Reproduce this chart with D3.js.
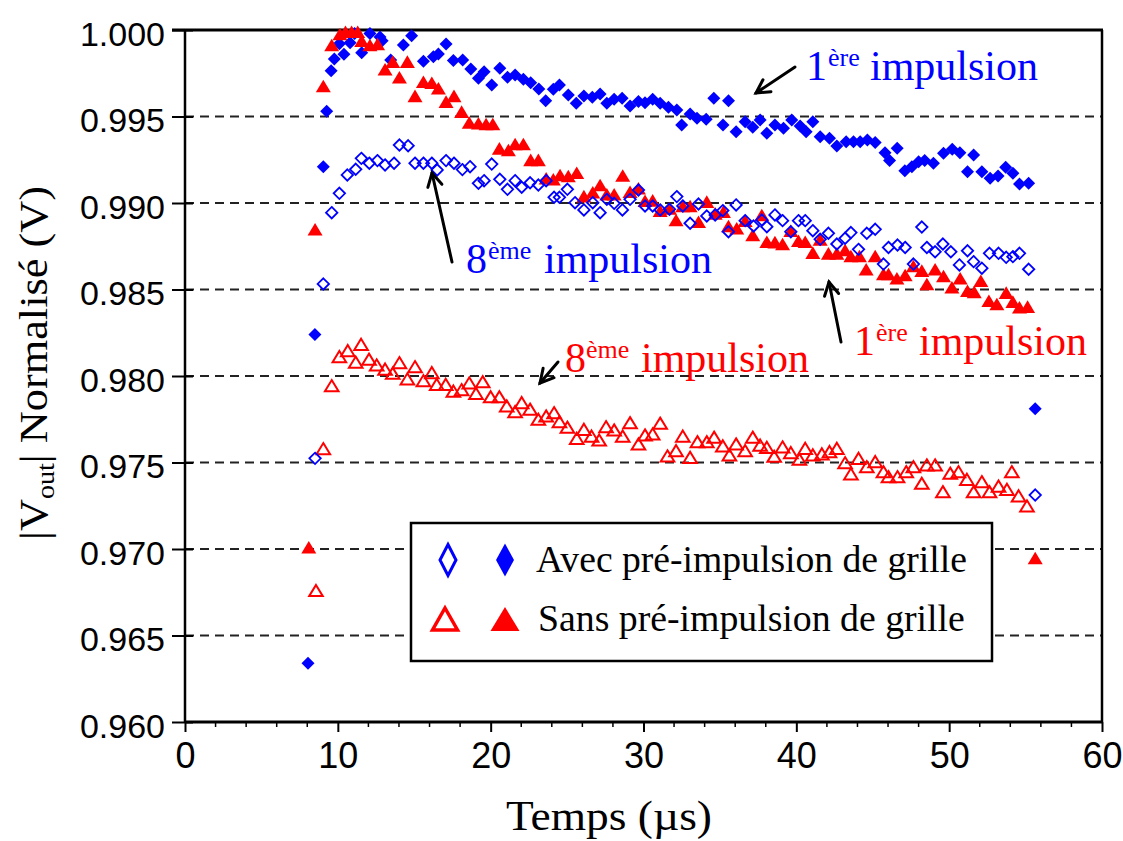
<!DOCTYPE html>
<html><head><meta charset="utf-8">
<script src="https://cdn.jsdelivr.net/npm/d3@7"></script>
<style>html,body{margin:0;padding:0;background:#fff;}svg{display:block;}</style>
</head><body>
<svg id="chart" width="1123" height="841"></svg>
<script>
// ---- Data (Temps µs, |Vout| normalisé) ----
const xTicks = [0,10,20,30,40,50,60];
const yTicks = [0.960,0.965,0.970,0.975,0.980,0.985,0.990,0.995,1.000];

// Avec pré-impulsion de grille, 1ère impulsion (filled diamond)
const avec1 = [[8.05,.9634],[8.5,.9824],[9.05,.9921],[9.27,.9953],[9.56,.99765],[9.77,.99832],[10.1,.9992],[10.4,.9986],[10.8,.99927],[11.1,.9998],[11.56,.99869],[12.1,.9998],[12.76,.9996],[12.9,.99938],[13.46,.99827],[14.29,.99913],[14.83,.99967],[15.6,.9982],[16.25,.99846],[16.58,.99861],[17.08,.99919],[17.56,.99823],[18.17,.99827],[18.7,.99775],[19.2,.99721],[19.57,.99759],[20.07,.99682],[20.6,.99779],[21.1,.99727],[21.6,.9974],[22.14,.99715],[22.62,.99695],[23.15,.99659],[23.6,.99591],[24.1,.99657],[24.5,.99682],[25.08,.99624],[25.6,.99576],[26.1,.99619],[26.65,.99611],[27.16,.9963],[27.6,.99576],[28.08,.99599],[28.6,.99605],[29.12,.99561],[29.67,.99586],[30.1,.9958],[30.6,.99599],[31.09,.99576],[31.63,.99553],[32.18,.99538],[32.5,.99451],[33.05,.99514],[33.5,.9949],[34.1,.99484],[34.6,.99605],[35.2,.99451],[35.56,.99591],[36.06,.99412],[36.65,.9947],[37.15,.99438],[37.63,.9948],[38.07,.99403],[38.6,.99451],[39.16,.99432],[39.7,.9948],[40.25,.99445],[40.64,.99412],[41.08,.9947],[41.56,.99383],[42.17,.99374],[42.65,.9933],[43.26,.99354],[43.74,.99354],[44.18,.99354],[44.65,.99364],[45.16,.99349],[45.8,.99291],[46.1,.99245],[46.6,.99316],[47.1,.99187],[47.56,.9921],[48.0,.99239],[48.4,.99245],[48.97,.9923],[49.63,.99287],[50.2,.9931],[50.7,.99291],[51.2,.99181],[51.6,.99278],[52.14,.99181],[52.68,.99143],[53.2,.99156],[53.7,.99206],[54.17,.99172],[54.6,.9911],[55.2,.99114],[55.63,.97811]];

// Avec pré-impulsion de grille, 8ème impulsion (open diamond)
const avec8 = [[8.51,.97524],[9.05,.98532],[9.6,.98944],[10.1,.99056],[10.62,.99162],[11.17,.99195],[11.54,.99258],[12.06,.9923],[12.59,.99245],[13.09,.9922],[13.68,.9923],[14.03,.99335],[14.6,.99331],[15.05,.9923],[15.6,.9923],[16.15,.9923],[16.5,.99191],[17.08,.99245],[17.6,.9923],[18.15,.99193],[18.65,.9921],[19.2,.99114],[19.57,.99129],[20.07,.99225],[20.6,.99137],[21.1,.99079],[21.6,.99129],[22.03,.99091],[22.58,.99117],[23.12,.99104],[23.63,.99129],[24.15,.99033],[24.5,.99033],[25.02,.99079],[25.52,.99002],[26.1,.9896],[26.68,.99002],[27.16,.98944],[27.6,.99021],[28.08,.98998],[28.62,.9896],[29.12,.99021],[29.67,.99075],[30.1,.98983],[30.6,.98983],[31.09,.9896],[31.7,.98964],[32.18,.99037],[32.57,.98983],[33.05,.98883],[33.6,.98994],[34.14,.98925],[34.69,.98931],[35.19,.98956],[35.56,.98834],[36.06,.98989],[36.65,.98898],[37.2,.98867],[37.74,.98902],[38.07,.98863],[38.6,.98931],[39.1,.98898],[39.64,.98834],[40.14,.98898],[40.58,.98898],[41.08,.9884],[41.56,.9879],[42.1,.98825],[42.65,.98763],[43.19,.98796],[43.57,.98829],[44.07,.98732],[44.61,.98825],[45.16,.98848],[45.7,.98647],[46.03,.98743],[46.62,.98757],[47.12,.98743],[47.66,.98647],[48.21,.98861],[48.54,.98743],[49.08,.98718],[49.59,.98763],[50.11,.98718],[50.67,.98642],[51.2,.98724],[51.6,.98661],[52.14,.98623],[52.64,.98709],[53.23,.98709],[53.73,.98686],[54.17,.9869],[54.6,.98709],[55.2,.98617],[55.63,.97312]];

// Sans pré-impulsion de grille, 1ère impulsion (filled triangle)
const sans1 = [[8.1,.9701],[8.51,.98848],[9.05,.99676],[9.6,.99913],[10.14,.99977],[10.5,.9999],[10.9,.9999],[11.3,.9999],[11.56,.99938],[12.1,.99913],[12.6,.99919],[13.09,.99773],[13.59,.99817],[14.03,.99727],[14.55,.99817],[15.05,.99619],[15.6,.99701],[16.15,.99695],[16.58,.99663],[17.08,.99586],[17.6,.99619],[18.1,.99528],[18.6,.99465],[19.2,.99461],[19.7,.99457],[20.14,.99457],[20.57,.99316],[21.16,.99306],[21.6,.99341],[22.14,.99341],[22.62,.99249],[23.12,.99249],[23.63,.99143],[24.1,.99137],[24.54,.99162],[25.08,.99156],[25.63,.99175],[26.1,.9904],[26.68,.99062],[27.16,.99104],[27.6,.99051],[28.08,.99051],[28.64,.99159],[29.12,.99065],[29.67,.99085],[30.1,.99013],[30.6,.99015],[31.09,.98955],[31.7,.98969],[32.13,.98902],[32.57,.98983],[33.05,.98983],[33.6,.98892],[34.14,.99008],[34.69,.9894],[35.23,.9895],[35.56,.98867],[36.1,.98854],[36.65,.98898],[37.15,.98815],[37.74,.98931],[38.07,.98776],[38.6,.98774],[39.1,.98763],[39.64,.9884],[40.14,.98782],[40.58,.98776],[41.08,.98713],[41.56,.9879],[42.1,.98709],[42.65,.98709],[43.19,.98728],[43.57,.98694],[44.13,.98694],[44.57,.98617],[45.16,.98694],[45.7,.9859],[46.03,.9859],[46.58,.98565],[47.12,.98584],[47.66,.98636],[48.21,.98609],[48.54,.98532],[49.08,.98617],[49.63,.98578],[50.18,.98513],[50.72,.98565],[51.2,.98493],[51.64,.98486],[52.07,.98551],[52.6,.98435],[53.12,.98416],[53.73,.98482],[54.17,.9843],[54.6,.98397],[55.13,.98401],[55.63,.96948]];

// Sans pré-impulsion de grille, 8ème impulsion (open triangle)
const sans8 = [[8.57,.9676],[9.05,.9758],[9.6,.97944],[10.1,.98112],[10.65,.98147],[11.17,.9808],[11.52,.98183],[12.04,.98097],[12.54,.98064],[13.09,.9804],[13.59,.98016],[14.03,.98077],[14.55,.97983],[15.05,.98054],[15.6,.97973],[16.15,.9802],[16.47,.97952],[17.06,.97952],[17.56,.97913],[18.1,.97921],[18.6,.9796],[19.04,.979],[19.48,.97967],[20.0,.9788],[20.57,.9788],[21.05,.97827],[21.6,.97794],[22.03,.97846],[22.58,.97808],[23.12,.9775],[23.63,.97769],[24.15,.97788],[24.5,.97736],[25.02,.97704],[25.63,.9764],[26.1,.97692],[26.6,.97653],[27.1,.9763],[27.55,.97707],[28.08,.97688],[28.64,.97653],[29.12,.9773],[29.67,.97607],[30.1,.97659],[30.6,.97665],[31.09,.97727],[31.57,.97538],[32.13,.97569],[32.57,.97653],[33.05,.9753],[33.53,.9762],[34.14,.9762],[34.62,.97646],[35.19,.97596],[35.62,.97544],[36.06,.97607],[36.65,.97569],[37.15,.97646],[37.63,.97601],[38.07,.97588],[38.55,.97536],[39.1,.9759],[39.64,.97557],[40.2,.97519],[40.58,.97582],[41.08,.97544],[41.67,.9755],[42.17,.97563],[42.65,.97582],[43.19,.97499],[43.57,.97434],[44.07,.97524],[44.61,.97476],[45.16,.97505],[45.7,.97447],[46.03,.97418],[46.62,.97418],[47.19,.97447],[47.66,.97476],[48.21,.9738],[48.54,.97486],[49.08,.97486],[49.59,.97331],[50.07,.97438],[50.61,.97447],[51.16,.97403],[51.6,.97331],[52.14,.97389],[52.64,.97331],[53.23,.97364],[53.78,.97345],[54.1,.97447],[54.54,.97307],[55.09,.97249]];

const legendLabels = ["Avec pré-impulsion de grille","Sans pré-impulsion de grille"];

// ---- Drawing ----
const svg = d3.select("#chart");
const BLUE = "#0000ff", RED = "#ff0000";
const x = d3.scaleLinear().domain([0,60]).range([185,1102]);
const y = d3.scaleLinear().domain([0.96,1.0]).range([722,30]);
const sans = "'Liberation Sans', Arial, sans-serif";
const serif = "'Liberation Serif', 'Times New Roman', serif";

// dashed gridlines
svg.append("g").selectAll("line").data(yTicks.filter(v => v > 0.9601 && v < 0.9999)).join("line")
  .attr("x1", x(0)).attr("x2", x(60)).attr("y1", d => y(d)).attr("y2", d => y(d))
  .attr("stroke", "#222").attr("stroke-width", 2).attr("stroke-dasharray", "9,6");

// frame top + right
svg.append("line").attr("x1", x(0)-13).attr("x2", x(60)+1).attr("y1", y(1)).attr("y2", y(1)).attr("stroke","#000").attr("stroke-width",3);
svg.append("line").attr("x1", x(60)).attr("x2", x(60)).attr("y1", y(1)).attr("y2", y(0.96)).attr("stroke","#000").attr("stroke-width",2.5);

// y axis
const yAxis = svg.append("g").attr("transform", `translate(${x(0)},0)`)
  .call(d3.axisLeft(y).tickValues(yTicks).tickSize(13).tickPadding(7).tickFormat(d3.format(".3f")));
yAxis.select(".domain").attr("stroke-width", 2.5).attr("d", `M0,${y(1)}V${y(0.96)}`);
yAxis.selectAll(".tick line").attr("stroke-width", 2).attr("x2", -13).attr("x1", 8);
yAxis.selectAll(".tick text").attr("font-family", sans).attr("font-size", 34).attr("dy", 15).attr("fill","#000");

// x axis
const xAxis = svg.append("g").attr("transform", `translate(0,${y(0.96)})`)
  .call(d3.axisBottom(x).tickValues(xTicks).tickSize(10).tickFormat(d3.format("d")));
xAxis.select(".domain").attr("stroke-width", 3).attr("d", `M${x(0)},0H${x(60)}`);
xAxis.selectAll(".tick line").attr("stroke-width", 2);
xAxis.selectAll(".tick text").attr("font-family", sans).attr("font-size", 36).attr("y", 46).attr("dy", 0).attr("fill","#000");
const minor = d3.range(0, 61, 2).filter(v => v % 10 !== 0);
svg.append("g").selectAll("line").data(minor).join("line")
  .attr("x1", d => x(d)).attr("x2", d => x(d)).attr("y1", y(0.96)).attr("y2", y(0.96)+5)
  .attr("stroke","#000").attr("stroke-width",1.5);

// marker paths
const diamond = (cx, cy, w, h) => `M${cx},${cy-h}L${cx+w},${cy}L${cx},${cy+h}L${cx-w},${cy}Z`;
const triangle = (cx, cy, w, h) => `M${cx},${cy-h}L${cx+w},${cy+h}L${cx-w},${cy+h}Z`;

svg.append("g").selectAll("path").data(avec1).join("path")
  .attr("d", d => diamond(x(d[0]), y(d[1]), 6.5, 6.5)).attr("fill", BLUE);
svg.append("g").selectAll("path").data(sans1).join("path")
  .attr("d", d => triangle(x(d[0]), y(d[1]), 7.5, 6.3)).attr("fill", RED);
svg.append("g").selectAll("path").data(sans8).join("path")
  .attr("d", d => triangle(x(d[0]), y(d[1]), 6.8, 5.6)).attr("fill", "none").attr("stroke", RED).attr("stroke-width", 2);
svg.append("g").selectAll("path").data(avec8).join("path")
  .attr("d", d => diamond(x(d[0]), y(d[1]), 5.7, 5.7)).attr("fill", "none").attr("stroke", BLUE).attr("stroke-width", 1.8);

// legend
svg.append("rect").attr("x", 411).attr("y", 523).attr("width", 581).attr("height", 138)
  .attr("fill", "#fff").attr("stroke", "#000").attr("stroke-width", 2.5);
svg.append("path").attr("d", diamond(448, 560, 8, 15.5)).attr("fill","none").attr("stroke",BLUE).attr("stroke-width",3);
svg.append("path").attr("d", diamond(505, 560, 9, 16.5)).attr("fill",BLUE);
svg.append("path").attr("d", triangle(445, 619, 12.5, 11)).attr("fill","none").attr("stroke",RED).attr("stroke-width",3.5);
svg.append("path").attr("d", triangle(505, 619, 14.5, 12)).attr("fill",RED);

function fit(sel, target, ax, ay) {
  const w = sel.node().getBBox().width;
  const s = target / w;
  sel.attr("transform", `translate(${ax},${ay}) scale(${s},1) translate(${-ax},${-ay})`);
}
const l1 = svg.append("text").attr("x", 536).attr("y", 572).attr("font-family", serif).attr("font-size", 37).text(legendLabels[0]);
fit(l1, 431, 536, 572);
const l2 = svg.append("text").attr("x", 538).attr("y", 631).attr("font-family", serif).attr("font-size", 37).text(legendLabels[1]);
fit(l2, 427, 538, 631);

// axis titles
const xt = svg.append("text").attr("x", 609).attr("y", 830).attr("text-anchor","middle")
  .attr("font-family", serif).attr("font-size", 42).text("Temps (µs)");
fit(xt, 206, 609, 830);
const yg = svg.append("g").attr("transform", "translate(47,363) rotate(-90)");
const yt = yg.append("text").attr("x", 0).attr("y", 0).attr("text-anchor","middle")
  .attr("font-family", serif).attr("font-size", 41);
yt.append("tspan").text("|V");
yt.append("tspan").attr("font-size", 26).attr("dy", 7).text("out");
yt.append("tspan").attr("dy", -7).text("| Normalisé (V)");
fit(yt, 354, 0, 0);

// annotations
function annot(color, xNum, xSup, xWord, base, num, sup) {
  svg.append("text").attr("x", xNum).attr("y", base).attr("fill", color).attr("font-family", serif).attr("font-size", 42).text(num);
  svg.append("text").attr("x", xSup).attr("y", base - 14).attr("fill", color).attr("font-family", serif).attr("font-size", 26).text(sup);
  svg.append("text").attr("x", xWord).attr("y", base).attr("fill", color).attr("font-family", serif).attr("font-size", 42).text("impulsion");
}
annot(BLUE, 806, 828, 870, 80, "1", "ère");
annot(BLUE, 466, 488, 544, 273, "8", "ème");
annot(RED, 854, 876, 919, 355, "1", "ère");
annot(RED, 565, 586, 641, 372, "8", "ème");

function arrow(x1, y1, x2, y2) {
  const g = svg.append("g").attr("stroke", "#000").attr("stroke-width", 3).attr("fill","none").attr("stroke-linecap","round");
  g.append("line").attr("x1", x1).attr("y1", y1).attr("x2", x2).attr("y2", y2);
  const a = Math.atan2(y1 - y2, x1 - x2), L = 15, sp = 0.5;
  g.append("path").attr("d", `M${x2 + L*Math.cos(a+sp)},${y2 + L*Math.sin(a+sp)}L${x2},${y2}L${x2 + L*Math.cos(a-sp)},${y2 + L*Math.sin(a-sp)}`);
}
arrow(795, 67, 756, 93);
arrow(452, 262, 432, 173);
arrow(558, 362, 540, 383);
arrow(841, 342, 829, 282);
</script>
</body></html>
